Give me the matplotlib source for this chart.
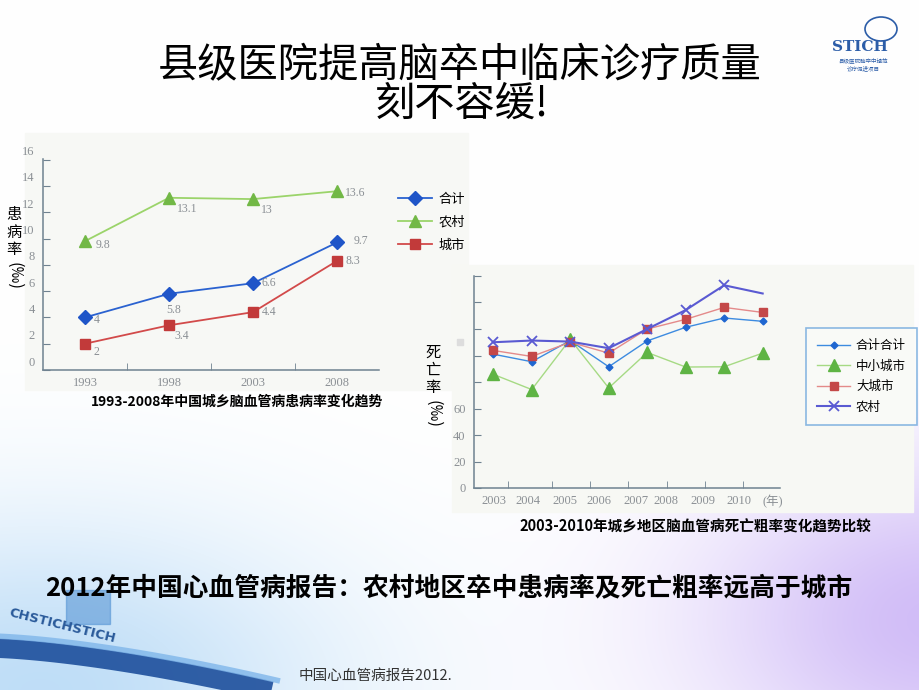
import numpy as np
import matplotlib
matplotlib.use("Agg")
import matplotlib.pyplot as plt
from matplotlib.patches import Rectangle, Ellipse
from matplotlib.transforms import ScaledTranslation

plt.rcParams['font.family'] = ['Noto Sans CJK SC', 'DejaVu Sans']

# left chart: prevalence (per mille)
years_a = ['1993', '1998', '2003', '2008']
total_a = [4, 5.8, 6.6, 9.7]
rural_a = [9.8, 13.1, 13, 13.6]
urban_a = [2, 3.4, 4.4, 8.3]

# right chart: crude death rate (per 100 000)
years_b = ['2003', '2004', '2005', '2006', '2007', '2008', '2009', '2010', '(年)']
total_b = [101, 95.3, 111.3, 91.5, 111, 121.3, 128.3, 125.8]
small_city_b = [85.8, 74.3, 112.3, 75.5, 102.3, 91.3, 91.5, 101.8]
big_city_b = [103.8, 99.3, 110, 101.8, 120, 127.3, 136.3, 132.5]
rural_b = [110, 111.3, 110.5, 105.5, 120, 134.3, 153, 146.8]

W, H = 920, 690
fig = plt.figure(figsize=(9.2, 6.9), dpi=100)

def fx(x):
    return x / W

def fy(y):
    return 1 - y / H

# slide background
bg = fig.add_axes([0, 0, 1, 1], zorder=-10)
yy, xx = np.mgrid[0:H, 0:W]
img = np.ones((H, W, 3))
blue = np.exp(-(((xx - 40) / 300.0) ** 2 + ((yy - 690) / 170.0) ** 2))
lav = np.exp(-(((xx - 940) / 240.0) ** 2 + ((yy - 620) / 160.0) ** 2))
for c, (b, l) in enumerate(zip([0.75, 0.87, 0.97], [0.82, 0.74, 0.97])):
    img[:, :, c] = img[:, :, c] - blue * (1 - b) - lav * (1 - l)
bg.imshow(np.clip(img, 0, 1), extent=[0, W, H, 0], aspect='auto')
# decoration bottom-left
t = np.linspace(0, 1, 60)
bg.plot(-10 + 290 * t, 648 + 45 * t ** 1.5, color='#1d4f9c', lw=14, alpha=0.9, solid_capstyle='butt')
bg.plot(-10 + 290 * t, 636 + 45 * t ** 1.5, color='#7fb6ea', lw=4, alpha=0.8, solid_capstyle='butt')
bg.add_patch(Rectangle((66, 590), 44, 34, color='#4d8fd2', alpha=0.55))
bg.text(62, 626, 'CHSTICHSTICH', rotation=-14, ha='center', va='center', fontsize=9.5,
        fontweight='bold', color='#2a5a9a', family=['DejaVu Sans'])
bg.set_xlim(0, W)
bg.set_ylim(H, 0)
bg.axis('off')

# panel backgrounds
fig.patches.append(Rectangle((fx(25), fy(390)), (468 - 25) / W, (390 - 133) / H,
                             transform=fig.transFigure, color='#f7f8f5', zorder=-5))
fig.patches.append(Rectangle((fx(452), fy(512)), (913 - 452) / W, (512 - 265) / H,
                             transform=fig.transFigure, color='#f7f8f4', zorder=-5))
fig.patches.append(Rectangle((fx(457), fy(345)), 6 / W, 6 / H,
                             transform=fig.transFigure, color='#dddddd', zorder=1))

# title
fig.text(fx(460), fy(66), '县级医院提高脑卒中临床诊疗质量', ha='center', va='center', fontsize=29)
fig.text(fx(462), fy(104), '刻不容缓!', ha='center', va='center', fontsize=29)

# logo
fig.text(fx(860), fy(47), 'STICH', ha='center', va='center', fontsize=11,
         fontweight='bold', color='#2c5da8', family=['DejaVu Serif'])
fig.patches.append(Ellipse((fx(881), fy(29)), 32 / W, 24 / H, transform=fig.transFigure,
                           fill=False, ec='#2c5da8', lw=1.2))
fig.text(fx(863), fy(60), '县级医院脑卒中规范', ha='center', va='center', fontsize=4, color='#2c5da8')
fig.text(fx(863), fy(68), '诊疗促进项目', ha='center', va='center', fontsize=4, color='#2c5da8')

grey = '#8a8f94'
axis_col = '#6f8290'

# ---- left chart ----
ax1 = fig.add_axes([fx(43), fy(370), (379 - 43) / W, (370 - 159) / H])
ax1.patch.set_alpha(0)
x1 = np.arange(len(years_a))
ax1.plot(x1, total_a, color='#2a62d0', lw=1.3, marker='D', ms=7, mfc='#1f55c8', mec='#1f55c8', label='合计')
ax1.plot(x1, rural_a, color='#9bd46a', lw=1.3, marker='^', ms=8, mfc='#72b846', mec='#72b846', label='农村')
ax1.plot(x1, urban_a, color='#d24a4a', lw=1.3, marker='s', ms=6.5, mfc='#c23a3a', mec='#c23a3a', label='城市')
offs = {
    'total': [(6, -2), (-2, -12), (6, 0), (12, 1)],
    'rural': [(8, -3), (6, -8), (6, -8), (6, -1)],
    'urban': [(6, -6), (4, -8), (6, 0), (6, 0)],
}
for key, vals in [('total', total_a), ('rural', rural_a), ('urban', urban_a)]:
    for i, v in enumerate(vals):
        ax1.annotate('%g' % v, (i, v), xytext=offs[key][i], textcoords='offset points',
                     fontsize=8.5, color=grey, va='center', ha='left', family=['Liberation Serif'])
ax1.set_xlim(-0.5, 3.5)
ax1.set_ylim(0, 16.05)
ax1.set_yticks(range(0, 17, 2))
ax1.set_xticks(x1)
ax1.set_xticklabels(years_a)
ax1.set_xticks([0.5, 1.5, 2.5], minor=True)
ax1.tick_params(axis='x', which='major', length=0, pad=5, labelsize=9, labelcolor=grey)
ax1.tick_params(axis='x', which='minor', direction='in', length=5, color=axis_col)
ax1.tick_params(axis='y', direction='in', length=5, color=axis_col, labelsize=9, labelcolor=grey, pad=6)
for lab in ax1.get_xticklabels() + ax1.get_yticklabels():
    lab.set_family(['Liberation Serif'])
for lab in ax1.get_yticklabels():
    lab.set_transform(lab.get_transform() + ScaledTranslation(0, 0.09, fig.dpi_scale_trans))
for s in ['top', 'right']:
    ax1.spines[s].set_visible(False)
for s in ['left', 'bottom']:
    ax1.spines[s].set_color(axis_col)
    ax1.spines[s].set_linewidth(1.1)
fig.legend(handles=ax1.get_lines(), loc='upper left', bbox_to_anchor=(fx(398), fy(193)),
           frameon=False, fontsize=9.5, handlelength=2.6, labelspacing=0.75, handletextpad=0.5,
           borderpad=0, borderaxespad=0)
fig.text(fx(14), fy(232), '患\n病\n率', ha='center', va='center', fontsize=11, linespacing=1.05)
fig.text(fx(14), fy(276), '(‰)', ha='center', va='center', fontsize=12, rotation=-90)
fig.text(fx(237), fy(402), '1993-2008年中国城乡脑血管病患病率变化趋势', ha='center', va='center',
         fontsize=10, fontweight='bold')

# ---- right chart ----
ax2 = fig.add_axes([fx(474), fy(488), (780 - 474) / W, (488 - 276) / H])
ax2.patch.set_alpha(0)
x2 = np.arange(len(total_b))
ax2.plot(x2, total_b, color='#3d8be0', lw=1, marker='D', ms=3.5, mfc='#1f66d0', mec='#1f66d0', label='合计合计')
ax2.plot(x2, small_city_b, color='#a6da84', lw=1, marker='^', ms=8, mfc='#5fb444', mec='#5fb444', label='中小城市')
ax2.plot(x2, big_city_b, color='#e48a8a', lw=1, marker='s', ms=6, mfc='#c44848', mec='#c44848', label='大城市')
ax2.plot(x2, rural_b, color='#5a5ad2', lw=1.5, marker='x', ms=7, mew=1.3, markevery=list(range(7)),
         label='农村')
ax2.set_xlim(-0.5, 7.45)
ax2.set_ylim(0, 160)
ax2.set_yticks(range(0, 161, 20))
ax2.set_yticklabels(['0', '20', '40', '60', '', '', '', '', ''])
ax2.set_xticks([0.03, 0.91, 1.87, 2.75, 3.71, 4.49, 5.45, 6.39, 7.25])
ax2.set_xticklabels(years_b)
ax2.set_xticks([0.39, 1.53, 2.52, 3.51, 4.52, 5.51, 6.49], minor=True)
ax2.tick_params(axis='x', which='major', length=0, pad=5, labelsize=9, labelcolor=grey)
ax2.tick_params(axis='x', which='minor', direction='in', length=5, color=axis_col)
ax2.tick_params(axis='y', direction='in', length=5, color=axis_col, labelsize=9, labelcolor=grey, pad=6)
for lab in ax2.get_xticklabels() + ax2.get_yticklabels():
    lab.set_family(['Liberation Serif', 'Noto Sans CJK SC'])
for s in ['top', 'right']:
    ax2.spines[s].set_visible(False)
for s in ['left', 'bottom']:
    ax2.spines[s].set_color(axis_col)
    ax2.spines[s].set_linewidth(1.1)
leg2 = fig.legend(handles=ax2.get_lines(), loc='upper left', bbox_to_anchor=(fx(806), fy(328)),
                  frameon=True, fontsize=9, handlelength=2.6, labelspacing=0.6, handletextpad=0.5,
                  borderpad=0.9, borderaxespad=0, fancybox=False)
leg2.get_frame().set_edgecolor('#6fa8dc')
leg2.get_frame().set_facecolor('#fafbf8')
leg2.get_frame().set_linewidth(1.2)
fig.text(fx(433), fy(370), '死\n亡\n率', ha='center', va='center', fontsize=11, linespacing=1.05)
fig.text(fx(433), fy(414), '(‰)', ha='center', va='center', fontsize=12, rotation=-90)
fig.text(fx(695), fy(527), '2003-2010年城乡地区脑血管病死亡粗率变化趋势比较', ha='center', va='center',
         fontsize=10.5, fontweight='bold')

# bottom notes
fig.text(fx(449), fy(588), '2012年中国心血管病报告：农村地区卒中患病率及死亡粗率远高于城市',
         ha='center', va='center', fontsize=18.5, fontweight='bold')
fig.text(fx(375), fy(676), '中国心血管病报告2012.', ha='center', va='center', fontsize=10.5, color='#333333')

fig.savefig('out.png', dpi=100)
